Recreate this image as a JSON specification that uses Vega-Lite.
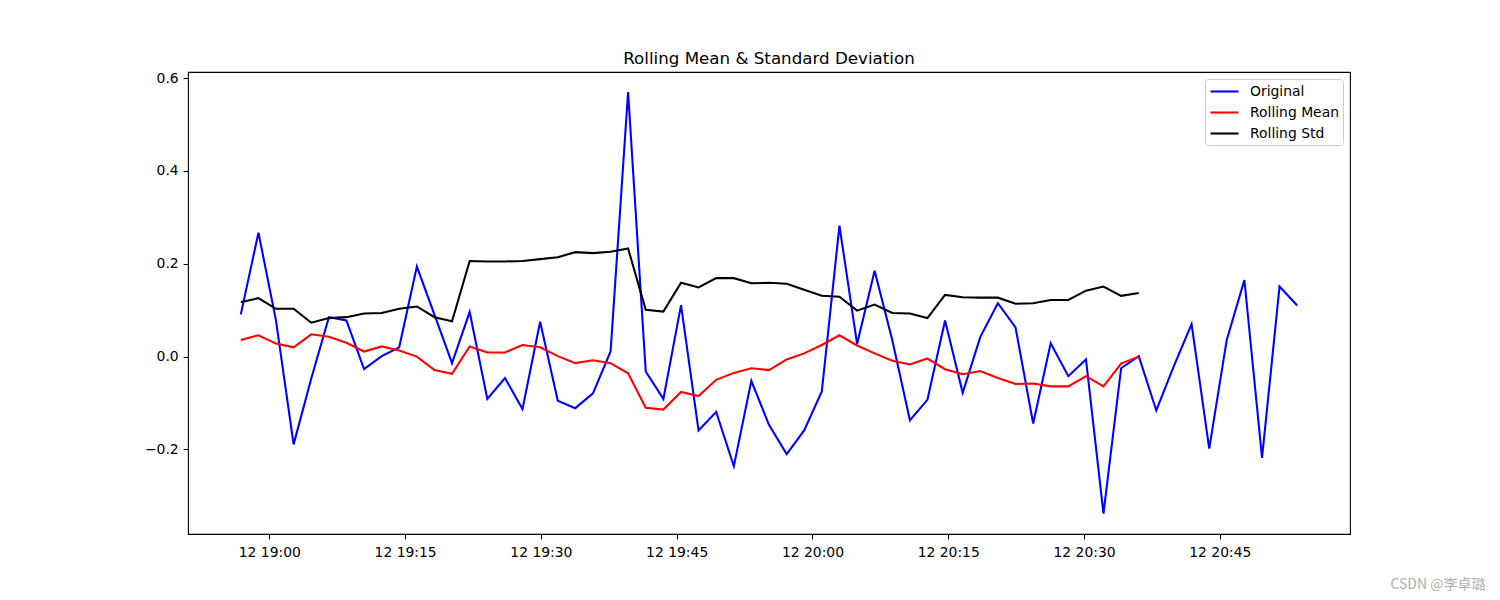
{
  "$schema": "https://vega.github.io/schema/vega-lite/v6.json",
  "width": 1162,
  "height": 462,
  "autosize": {"type": "none"},
  "padding": {"left": 188, "top": 72, "right": 150, "bottom": 66},
  "background": "white",
  "title": {
    "text": "Rolling Mean & Standard Deviation",
    "font": "DejaVu Sans",
    "fontSize": 16.7,
    "fontWeight": "normal",
    "color": "black",
    "anchor": "middle",
    "offset": 8,
    "dy": 18,
    "baseline": "alphabetic"
  },
  "data": {
    "values": [
      {"t": "2023-01-12T18:56:51", "Original": 0.091, "Rolling Mean": 0.036, "Rolling Std": 0.117},
      {"t": "2023-01-12T18:58:48", "Original": 0.267, "Rolling Mean": 0.046, "Rolling Std": 0.126},
      {"t": "2023-01-12T19:00:44", "Original": 0.078, "Rolling Mean": 0.028, "Rolling Std": 0.103},
      {"t": "2023-01-12T19:02:41", "Original": -0.189, "Rolling Mean": 0.020, "Rolling Std": 0.103},
      {"t": "2023-01-12T19:04:38", "Original": -0.047, "Rolling Mean": 0.048, "Rolling Std": 0.073},
      {"t": "2023-01-12T19:06:35", "Original": 0.085, "Rolling Mean": 0.043, "Rolling Std": 0.083},
      {"t": "2023-01-12T19:08:31", "Original": 0.078, "Rolling Mean": 0.030, "Rolling Std": 0.085},
      {"t": "2023-01-12T19:10:28", "Original": -0.027, "Rolling Mean": 0.011, "Rolling Std": 0.093},
      {"t": "2023-01-12T19:12:25", "Original": 0.001, "Rolling Mean": 0.022, "Rolling Std": 0.094},
      {"t": "2023-01-12T19:14:21", "Original": 0.020, "Rolling Mean": 0.013, "Rolling Std": 0.103},
      {"t": "2023-01-12T19:16:18", "Original": 0.194, "Rolling Mean": 0.000, "Rolling Std": 0.108},
      {"t": "2023-01-12T19:18:15", "Original": 0.090, "Rolling Mean": -0.029, "Rolling Std": 0.085},
      {"t": "2023-01-12T19:20:11", "Original": -0.014, "Rolling Mean": -0.037, "Rolling Std": 0.076},
      {"t": "2023-01-12T19:22:08", "Original": 0.096, "Rolling Mean": 0.022, "Rolling Std": 0.206},
      {"t": "2023-01-12T19:24:05", "Original": -0.091, "Rolling Mean": 0.009, "Rolling Std": 0.205},
      {"t": "2023-01-12T19:26:02", "Original": -0.046, "Rolling Mean": 0.009, "Rolling Std": 0.205},
      {"t": "2023-01-12T19:27:58", "Original": -0.113, "Rolling Mean": 0.025, "Rolling Std": 0.206},
      {"t": "2023-01-12T19:29:55", "Original": 0.075, "Rolling Mean": 0.020, "Rolling Std": 0.210},
      {"t": "2023-01-12T19:31:52", "Original": -0.095, "Rolling Mean": 0.001, "Rolling Std": 0.214},
      {"t": "2023-01-12T19:33:48", "Original": -0.111, "Rolling Mean": -0.014, "Rolling Std": 0.225},
      {"t": "2023-01-12T19:35:45", "Original": -0.079, "Rolling Mean": -0.008, "Rolling Std": 0.223},
      {"t": "2023-01-12T19:37:42", "Original": 0.011, "Rolling Mean": -0.014, "Rolling Std": 0.226},
      {"t": "2023-01-12T19:39:38", "Original": 0.570, "Rolling Mean": -0.036, "Rolling Std": 0.233},
      {"t": "2023-01-12T19:41:35", "Original": -0.032, "Rolling Mean": -0.110, "Rolling Std": 0.101},
      {"t": "2023-01-12T19:43:32", "Original": -0.091, "Rolling Mean": -0.114, "Rolling Std": 0.097},
      {"t": "2023-01-12T19:45:29", "Original": 0.111, "Rolling Mean": -0.076, "Rolling Std": 0.159},
      {"t": "2023-01-12T19:47:25", "Original": -0.159, "Rolling Mean": -0.085, "Rolling Std": 0.149},
      {"t": "2023-01-12T19:49:22", "Original": -0.119, "Rolling Mean": -0.050, "Rolling Std": 0.169},
      {"t": "2023-01-12T19:51:19", "Original": -0.236, "Rolling Mean": -0.035, "Rolling Std": 0.169},
      {"t": "2023-01-12T19:53:15", "Original": -0.052, "Rolling Mean": -0.025, "Rolling Std": 0.158},
      {"t": "2023-01-12T19:55:12", "Original": -0.147, "Rolling Mean": -0.029, "Rolling Std": 0.159},
      {"t": "2023-01-12T19:57:09", "Original": -0.210, "Rolling Mean": -0.006, "Rolling Std": 0.157},
      {"t": "2023-01-12T19:59:05", "Original": -0.159, "Rolling Mean": 0.007, "Rolling Std": 0.144},
      {"t": "2023-01-12T20:01:02", "Original": -0.075, "Rolling Mean": 0.025, "Rolling Std": 0.131},
      {"t": "2023-01-12T20:02:59", "Original": 0.282, "Rolling Mean": 0.046, "Rolling Std": 0.129},
      {"t": "2023-01-12T20:04:56", "Original": 0.027, "Rolling Mean": 0.024, "Rolling Std": 0.099},
      {"t": "2023-01-12T20:06:52", "Original": 0.185, "Rolling Mean": 0.007, "Rolling Std": 0.112},
      {"t": "2023-01-12T20:08:49", "Original": 0.036, "Rolling Mean": -0.009, "Rolling Std": 0.094},
      {"t": "2023-01-12T20:10:46", "Original": -0.137, "Rolling Mean": -0.017, "Rolling Std": 0.093},
      {"t": "2023-01-12T20:12:42", "Original": -0.093, "Rolling Mean": -0.004, "Rolling Std": 0.083},
      {"t": "2023-01-12T20:14:39", "Original": 0.078, "Rolling Mean": -0.027, "Rolling Std": 0.133},
      {"t": "2023-01-12T20:16:36", "Original": -0.078, "Rolling Mean": -0.038, "Rolling Std": 0.128},
      {"t": "2023-01-12T20:18:32", "Original": 0.042, "Rolling Mean": -0.031, "Rolling Std": 0.127},
      {"t": "2023-01-12T20:20:29", "Original": 0.115, "Rolling Mean": -0.046, "Rolling Std": 0.127},
      {"t": "2023-01-12T20:22:26", "Original": 0.063, "Rolling Mean": -0.059, "Rolling Std": 0.114},
      {"t": "2023-01-12T20:24:23", "Original": -0.144, "Rolling Mean": -0.058, "Rolling Std": 0.115},
      {"t": "2023-01-12T20:26:19", "Original": 0.029, "Rolling Mean": -0.064, "Rolling Std": 0.122},
      {"t": "2023-01-12T20:28:16", "Original": -0.042, "Rolling Mean": -0.064, "Rolling Std": 0.122},
      {"t": "2023-01-12T20:30:13", "Original": -0.006, "Rolling Mean": -0.042, "Rolling Std": 0.142},
      {"t": "2023-01-12T20:32:09", "Original": -0.338, "Rolling Mean": -0.064, "Rolling Std": 0.151},
      {"t": "2023-01-12T20:34:06", "Original": -0.025, "Rolling Mean": -0.015, "Rolling Std": 0.131},
      {"t": "2023-01-12T20:36:03", "Original": 0.001, "Rolling Mean": 0.000, "Rolling Std": 0.137},
      {"t": "2023-01-12T20:37:59", "Original": -0.116},
      {"t": "2023-01-12T20:39:56", "Original": -0.020},
      {"t": "2023-01-12T20:41:53", "Original": 0.070},
      {"t": "2023-01-12T20:43:50", "Original": -0.198},
      {"t": "2023-01-12T20:45:46", "Original": 0.036},
      {"t": "2023-01-12T20:47:43", "Original": 0.165},
      {"t": "2023-01-12T20:49:40", "Original": -0.218},
      {"t": "2023-01-12T20:51:36", "Original": 0.151},
      {"t": "2023-01-12T20:53:33", "Original": 0.110}
    ]
  },
  "transform": [
    {"fold": ["Original", "Rolling Mean", "Rolling Std"], "as": ["series", "value"]}
  ],
  "mark": {"type": "line", "strokeWidth": 2.08, "interpolate": "linear"},
  "encoding": {
    "x": {
      "field": "t",
      "type": "temporal",
      "scale": {
        "domain": [
          {"year": 2023, "month": 1, "date": 12, "hours": 18, "minutes": 51, "seconds": 1},
          {"year": 2023, "month": 1, "date": 12, "hours": 20, "minutes": 59, "seconds": 23}
        ],
        "nice": false
      },
      "axis": {
        "format": "%d %H:%M",
        "values": [
          {"year": 2023, "month": 1, "date": 12, "hours": 19, "minutes": 0},
          {"year": 2023, "month": 1, "date": 12, "hours": 19, "minutes": 15},
          {"year": 2023, "month": 1, "date": 12, "hours": 19, "minutes": 30},
          {"year": 2023, "month": 1, "date": 12, "hours": 19, "minutes": 45},
          {"year": 2023, "month": 1, "date": 12, "hours": 20, "minutes": 0},
          {"year": 2023, "month": 1, "date": 12, "hours": 20, "minutes": 15},
          {"year": 2023, "month": 1, "date": 12, "hours": 20, "minutes": 30},
          {"year": 2023, "month": 1, "date": 12, "hours": 20, "minutes": 45}
        ],
        "labelFlush": false,
        "labelOverlap": false,
        "labelPadding": 6.5,
        "title": "CSDN @李卓璐",
        "titleFont": "Noto Sans CJK SC",
        "titleFontSize": 14,
        "titleFontWeight": "normal",
        "titleColor": "#b0b0b0",
        "titleX": 1297,
        "titleY": 54,
        "titleAlign": "right",
        "titleBaseline": "alphabetic",
        "titleAnchor": "end"
      }
    },
    "y": {
      "field": "value",
      "type": "quantitative",
      "scale": {"domain": [-0.382, 0.613], "nice": false, "zero": false},
      "axis": {"values": [-0.2, 0, 0.2, 0.4, 0.6], "format": ".1f", "title": null}
    },
    "color": {
      "field": "series",
      "type": "nominal",
      "scale": {
        "domain": ["Original", "Rolling Mean", "Rolling Std"],
        "range": ["#0000ff", "#ff0000", "#000000"]
      },
      "legend": {"title": null}
    }
  },
  "config": {
    "font": "DejaVu Sans",
    "view": {"stroke": "black", "strokeWidth": 1.1},
    "axis": {
      "domain": false,
      "grid": false,
      "ticks": true,
      "tickColor": "black",
      "tickWidth": 1.1,
      "tickSize": 4.9,
      "labelFont": "DejaVu Sans",
      "labelFontSize": 13.9,
      "labelColor": "black",
      "labelPadding": 4.9
    },
    "legend": {
      "orient": "top-right",
      "offset": 7,
      "symbolType": "M-1,0L3,0",
      "symbolSize": 196,
      "symbolStrokeWidth": 2.08,
      "labelFont": "DejaVu Sans",
      "labelFontSize": 13.9,
      "labelColor": "black",
      "labelOffset": 24,
      "strokeColor": "#cccccc",
      "fillColor": "rgba(255,255,255,0.8)",
      "cornerRadius": 3,
      "padding": 4,
      "rowPadding": 5
    }
  }
}
